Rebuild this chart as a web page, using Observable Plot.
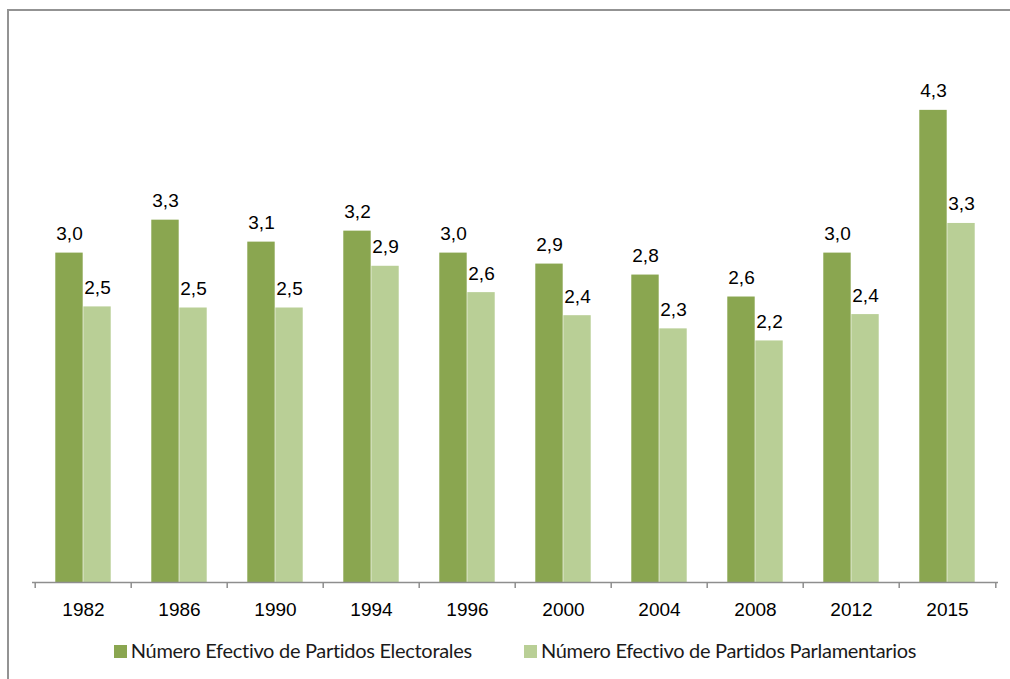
<!DOCTYPE html>
<html lang="es">
<head>
<meta charset="utf-8">
<script src="https://cdn.jsdelivr.net/npm/d3@7"></script>
<script src="https://cdn.jsdelivr.net/npm/@observablehq/plot@0.6"></script>
<style>
  html, body { margin: 0; padding: 0; background: #fff; overflow: hidden; width: 1010px; height: 679px; }
  #chart { position: absolute; left: 0; top: 0; }
  #frame { position: absolute; left: 7px; top: 9px; width: 1100px; height: 800px;
           border-left: 2px solid #939393; border-top: 2px solid #939393; pointer-events: none; z-index: 2; }
  #legend { position: absolute; left: 32px; width: 966px; top: 638px; display: flex; justify-content: center;
            gap: 52px; font-family: Lato, "Noto Sans", sans-serif; font-size: 20px; letter-spacing: -0.3px; color: #1a1a1a; }
  .item { display: flex; align-items: center; white-space: nowrap; }
  .swatch { width: 13px; height: 13px; margin-right: 4px; margin-top: 3px; }
</style>
</head>
<body>
<div id="chart"></div>
<div id="frame"></div>
<div id="legend"></div>
<script>
// Election years
const years = ["1982", "1986", "1990", "1994", "1996", "2000", "2004", "2008", "2012", "2015"];
// Effective number of parties: electoral and parliamentary
const electorales = [3.00, 3.30, 3.10, 3.20, 3.00, 2.90, 2.80, 2.60, 3.00, 4.30];
const parlamentarios = [2.51, 2.50, 2.50, 2.88, 2.64, 2.43, 2.31, 2.20, 2.44, 3.27];
const seriesNames = ["Número Efectivo de Partidos Electorales", "Número Efectivo de Partidos Parlamentarios"];
const seriesColors = ["#8aa650", "#b9cf96"];

const rowsE = years.map((year, i) => ({year, value: electorales[i]}));
const rowsP = years.map((year, i) => ({year, value: parlamentarios[i]}));

const fmt = d3.formatLocale({decimal: ",", thousands: ".", grouping: [3], currency: ["", ""]}).format(".1f");

const W = 1010, H = 630, mL = 32, mR = 12, mT = 33, mB = 48;
const bw = (W - mL - mR) / years.length;   // band width per year
const gap = bw * 0.21;                       // space between band edge and bar group
const barW = (bw - 2 * gap) / 2;             // width of each bar
const labelFont = "Liberation Sans";
const axisStroke = "#8e8e8e";

const chart = Plot.plot({
  width: W, height: H,
  marginLeft: mL, marginRight: mR, marginTop: mT, marginBottom: mB,
  style: {background: "transparent", color: "#000", fontFamily: labelFont},
  x: {domain: years, padding: 0, axis: null},
  y: {domain: [0, 5], axis: null},
  marks: [
    Plot.barY(rowsE, {x: "year", y: "value", fill: seriesColors[0], insetLeft: gap, insetRight: gap + barW}),
    Plot.barY(rowsP, {x: "year", y: "value", fill: seriesColors[1], insetLeft: gap + barW, insetRight: gap}),
    Plot.text(rowsE, {x: "year", y: "value", text: d => fmt(d.value), dx: -barW / 2, dy: -13,
      lineAnchor: "bottom", fontSize: 19, fontFamily: labelFont, fill: "#000"}),
    Plot.text(rowsP, {x: "year", y: "value", text: d => fmt(d.value), dx: barW / 2, dy: -13,
      lineAnchor: "bottom", fontSize: 19, fontFamily: labelFont, fill: "#000"}),
    // category axis: baseline, boundary ticks and year labels
    Plot.ruleY([0], {stroke: axisStroke, strokeWidth: 1.5}),
    Plot.ruleX(years, {x: d => d, y1: () => 0, y2: () => 0, insetBottom: -6, dx: -bw / 2,
      stroke: axisStroke, strokeWidth: 1.5}),
    Plot.ruleX(years.slice(-1), {x: d => d, y1: () => 0, y2: () => 0, insetBottom: -6, dx: bw / 2,
      stroke: axisStroke, strokeWidth: 1.5}),
    Plot.axisX({tickSize: 0, tickPadding: 20, fontSize: 19, fontFamily: labelFont, fill: "#000", label: null})
  ]
});
document.getElementById("chart").append(chart);

// Legend
const legend = d3.select("#legend");
seriesNames.forEach((name, i) => {
  const item = legend.append("div").attr("class", "item");
  item.append("div").attr("class", "swatch").style("background", seriesColors[i]);
  item.append("span").text(name);
});
</script>
</body>
</html>
